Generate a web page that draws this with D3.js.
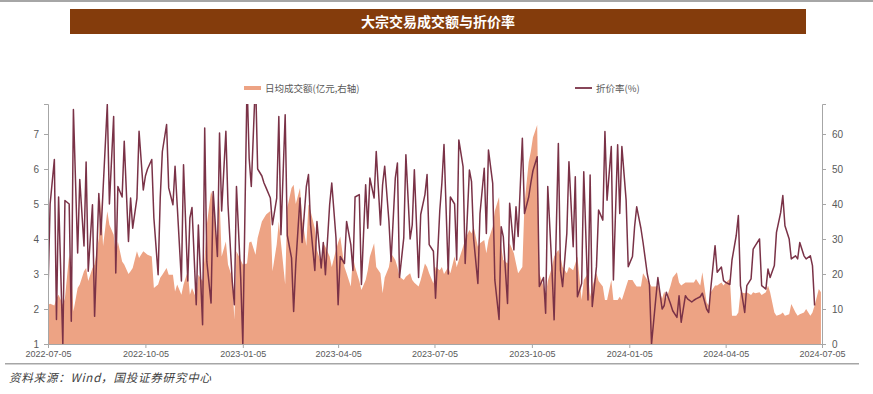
<!DOCTYPE html>
<html><head><meta charset="utf-8">
<script src="https://cdn.jsdelivr.net/npm/d3@7"></script>
<style>
body{margin:0;background:#fff;}
svg{display:block;}
text{font-family:"Liberation Sans","Noto Sans CJK SC",sans-serif;}
</style></head>
<body><svg id="c" width="873" height="394"></svg>
<script>
const title = "大宗交易成交额与折价率";
const legendLabels = ["日均成交额(亿元,右轴)", "折价率(%)"];
const sourceText = "资料来源：Wind，国投证券研究中心";
const startDate = "2022-07-05";
const endDate = "2024-07-05";
const xTickLabels = ["2022-07-05","2022-10-05","2023-01-05","2023-04-05","2023-07-05","2023-10-05","2024-01-05","2024-04-05","2024-07-05"];
const leftTicks = [1,2,3,4,5,6,7];
const rightTicks = [0,10,20,30,40,50,60];

// 折价率(%) — left axis, one value every second trading day
const discount = [
2.5,5.0,6.27,1.7,5.2,1.0,5.1,5.0,1.65,7.7,3.6,5.7,3.8,6.2,3.08,4.98,1.79,5.3,4.12,5.4,
7.84,5.0,7.5,3.03,5.5,5.2,6.79,3.93,5.17,4.31,5.17,7.08,5.4,5.8,6.0,6.27,4.6,2.98,5.17,6.5,
7.27,5.46,4.98,6.08,4.98,2.8,6.12,2.8,4.6,4.9,2.12,4.4,1.55,7.17,3.36,2.17,5.36,3.5,7.03,4.8,
7.08,4.98,2.79,2.12,5.5,2.89,1.0,8.5,6.3,5.5,8.6,6.0,5.8,5.6,5.46,5.17,4.41,5.17,7.5,4.12,
7.55,4.1,3.46,1.93,3.27,5.17,3.9,5.5,5.84,4.4,3.1,4.5,3.17,3.9,2.98,4.98,5.6,4.03,2.12,3.5,
3.3,4.5,3.84,3.1,5.2,5.27,2.7,5.55,4.31,5.74,5.17,6.5,4.4,5.55,6.08,4.5,3.36,5.74,6.17,2.9,
4.03,6.41,4.0,4.4,5.98,2.9,4.7,5.27,5.84,3.84,3.65,2.31,4.8,5.6,6.7,3.0,5.2,5.0,3.4,6.83,
6.07,3.3,5.97,5.64,4.0,2.73,4.73,6.02,4.16,6.54,5.59,2.83,1.7,4.35,4.07,2.16,5.02,3.69,4.92,4.07,
6.88,4.73,5.2,5.6,5.95,6.35,2.64,2.9,1.88,5.5,3.11,1.69,6.73,3.11,2.64,4.16,6.21,3.78,5.78,2.35,
2.73,5.92,2.26,5.83,2.07,3.21,4.83,4.54,7.07,5.11,6.64,2.83,6.69,4.73,6.64,5.11,3.21,3.5,4.35,4.92,
4.3,3.9,3.0,2.7,1.0,2.29,2.9,2.0,2.1,2.48,2.14,1.95,1.76,2.38,1.62,2.38,2.29,2.2,2.25,2.29,
2.35,2.45,2.0,1.9,2.6,3.81,3.05,3.2,2.81,2.76,2.7,3.4,4.1,4.67,2.67,1.9,2.67,2.86,3.71,3.81,
4.0,2.67,2.57,3.14,2.9,3.24,4.19,4.76,5.24,4.38,4.0,3.43,3.52,3.43,3.9,3.52,3.43,3.52,3.24,2.1,
null,null
];

// 日均成交额(亿元) — right axis
const turnover = [
11.2,11.5,11.0,13.1,14.1,11.2,13.1,25.5,21.7,9.3,16,17,20.8,21.7,18,21.7,22.7,30.3,41.7,28,
37.9,34.1,31.2,25.5,29.3,23.6,22.7,20,20.8,21.7,26.5,24.6,26.5,26,25.5,25,16,17,18.9,19.8,
21.7,19.8,19.8,15,17,14.1,17,20.8,14.1,16,13.1,19.8,17.9,25,34.1,43.6,41.7,26.5,41.7,25,
29.3,22.7,18.9,7,26.5,24,22.7,23,29,29.3,25.5,30.3,35,36,37,38,20.8,28.4,35,29,
17,38.9,44.6,45.5,40,44.6,36,28,40,38,33,26.9,23,28.8,27.8,25,22,26.9,29,30.7,
22,20.2,16.4,25,22,18,15.4,18.3,21.1,25,28.8,22,20.2,14.5,19,22,25.9,24,22,19.2,
18.3,19.2,20.2,18.3,17.5,16.4,18.3,23,22,20.2,17.3,22,21.1,22,20,22,20.2,25,22,24,
27.8,30,32.6,31.6,33.5,27.8,28.8,29.7,25.9,29.7,33.5,38,42,27.8,24,23,28.8,25.9,23,20.2,
22,40,52,55,59,62.6,20.2,16.4,13.5,18,22,25,26.9,25,22,20.2,22,21.1,23,25,
12.6,18.3,20.2,13.5,16.4,20.2,18,16.4,12.6,12.6,18.3,12.6,12.6,13.5,12.6,16.4,18.3,18.3,17.3,16.4,
16.4,20.2,18.3,17.3,16.4,16.4,16.7,12.9,15,12.9,16.7,19,20.5,17.6,16.7,17.6,17.6,17.6,17.6,18.6,
16.7,20.5,11.9,11,14.8,16.7,16.7,17.6,16.7,17.6,18.6,8.1,8.1,9,14.8,14.5,14.8,14,14.8,14.5,
14.8,14,14.8,16.7,14.8,9,8.1,8.5,9,8.1,8.5,11.4,9,8.1,8.5,9,10,8.1,9,11,
15.7,14.8
];

const parse = d3.timeParse("%Y-%m-%d");
// trading-day categories: every second weekday of the period
const allWeekdays = [];
for (let d = parse(startDate); d <= parse(endDate); d = d3.timeDay.offset(d, 1)) {
  const wd = d.getDay();
  if (wd !== 0 && wd !== 6) allWeekdays.push(d);
}
const dates = allWeekdays.filter((d, i) => i % 2 === 0);
const n = Math.min(dates.length, discount.length, turnover.length);
const data = d3.range(n).map(i => ({date: dates[i], disc: discount[i], vol: turnover[i]}));

const svg = d3.select("#c");
const W = 873, H = 394;
const m = {left: 48, right: 822, top: 104, bottom: 344};

const x = d3.scaleTime().domain([parse(startDate), parse(endDate)]).range([m.left, m.right]);
const yL = d3.scaleLinear().domain([1, 8]).range([m.bottom, 99]);
const yR = d3.scaleLinear().domain([0, 70]).range([m.bottom, 99]);

// top rule
svg.append("rect").attr("x", 0).attr("y", 0).attr("width", W).attr("height", 2).attr("fill", "#a6a6a6");

// title bar
svg.append("rect").attr("x", 70).attr("y", 9).attr("width", 736).attr("height", 25).attr("fill", "#843c0c");
svg.append("text").attr("x", 438).attr("y", 26.5).attr("text-anchor", "middle")
  .attr("fill", "#fff").attr("font-size", 14).attr("font-weight", "bold")
  .style("font-family", "'Noto Sans CJK SC',sans-serif").text(title);

// clip
svg.append("defs").append("clipPath").attr("id", "plotclip")
  .append("rect").attr("x", m.left).attr("y", m.top).attr("width", m.right - m.left).attr("height", m.bottom - m.top);

const g = svg.append("g").attr("clip-path", "url(#plotclip)");

g.append("path").datum(data)
  .attr("fill", "#eda384")
  .attr("d", d3.area().x(d => x(d.date)).y0(yR(0)).y1(d => yR(d.vol)));

g.append("path").datum(data)
  .attr("fill", "none").attr("stroke", "#7a3247").attr("stroke-width", 1.5).attr("stroke-linejoin", "round")
  .attr("d", d3.line().defined(d => d.disc != null).x(d => x(d.date)).y(d => yL(d.disc)));

// axes
const axisColor = "#a6a6a6", textColor = "#595959";
function styleAxis(sel, fs) {
  sel.select(".domain").attr("stroke", axisColor);
  sel.selectAll(".tick line").attr("stroke", axisColor);
  sel.selectAll(".tick text").attr("fill", textColor).attr("font-size", fs)
    .style("font-family", "'Liberation Sans',Arial,sans-serif");
}
const gx = svg.append("g").attr("transform", `translate(0,${m.bottom})`)
  .call(d3.axisBottom(x).tickValues(xTickLabels.map(parse)).tickFormat(d3.timeFormat("%Y-%m-%d")).tickSizeOuter(0).tickSize(4).tickPadding(3));
styleAxis(gx, 9);

const yLeftScale = yL.copy().domain([1, 1 + (m.bottom - m.top) / 35]).range([m.bottom, m.top]);
const gl = svg.append("g").attr("transform", `translate(${m.left},0)`)
  .call(d3.axisLeft(yLeftScale).tickValues(leftTicks).tickFormat(d3.format("d")).tickSizeOuter(0).tickSize(4).tickPadding(5));
styleAxis(gl, 10);

const yRightScale = yR.copy().domain([0, (m.bottom - m.top) / 3.5]).range([m.bottom, m.top]);
const gr = svg.append("g").attr("transform", `translate(${m.right},0)`)
  .call(d3.axisRight(yRightScale).tickValues(rightTicks).tickFormat(d3.format("d")).tickSizeOuter(0).tickSize(4).tickPadding(6));
styleAxis(gr, 10);

// legend
const lg = svg.append("g");
lg.append("rect").attr("x", 244).attr("y", 86).attr("width", 17).attr("height", 4).attr("fill", "#eda384");
lg.append("text").attr("x", 265).attr("y", 91.5).attr("font-size", 9.5).attr("fill", textColor)
  .style("font-family", "'Noto Sans CJK SC',sans-serif").text(legendLabels[0]);
lg.append("line").attr("x1", 575).attr("x2", 592).attr("y1", 88).attr("y2", 88)
  .attr("stroke", "#7a3247").attr("stroke-width", 1.8);
lg.append("text").attr("x", 596).attr("y", 91.5).attr("font-size", 9.5).attr("fill", textColor)
  .style("font-family", "'Noto Sans CJK SC',sans-serif").text(legendLabels[1]);

// bottom separator and source
svg.append("rect").attr("x", 5).attr("y", 363).attr("width", 854).attr("height", 1.5).attr("fill", "#a6a6a6");
svg.append("text").attr("x", 9).attr("y", 382).attr("font-size", 11.5).attr("font-style", "italic")
  .attr("letter-spacing", 0.8)
  .attr("fill", "#404040").style("font-family", "'Noto Sans CJK SC',sans-serif").text(sourceText);
</script></body></html>
